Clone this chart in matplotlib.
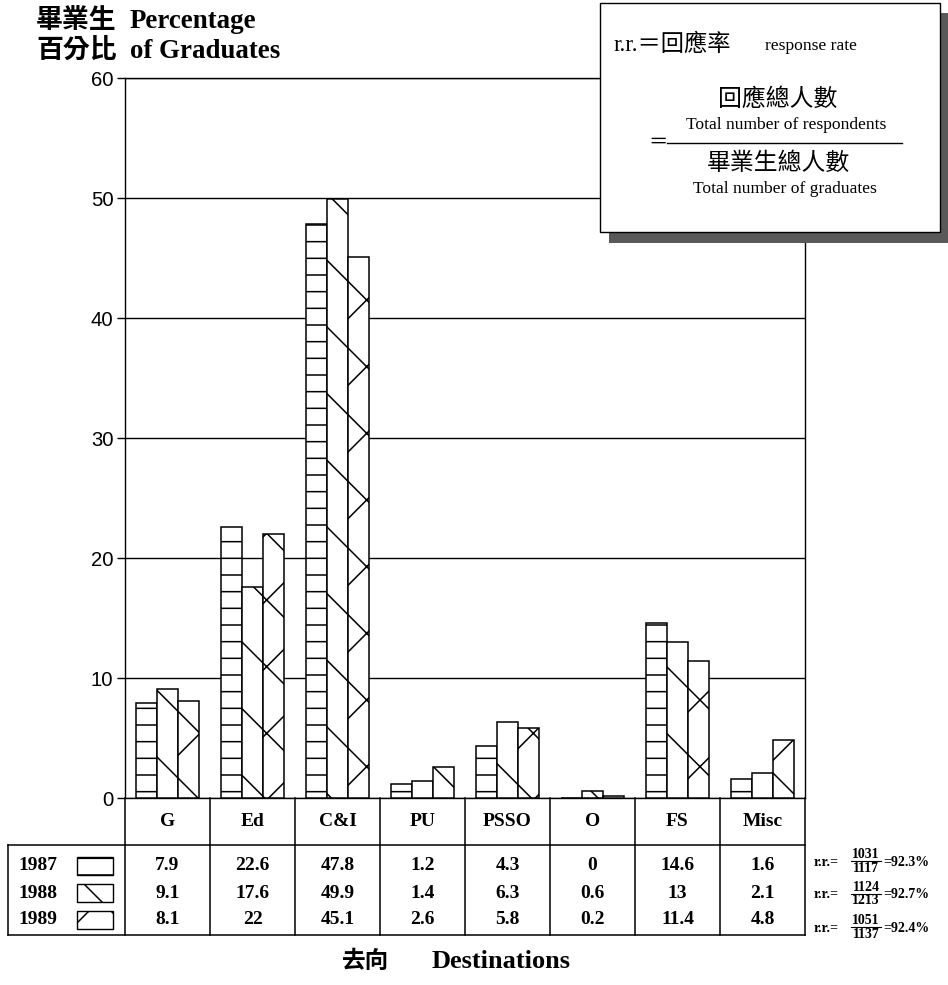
import numpy as np
import matplotlib
matplotlib.use('Agg')
import matplotlib.pyplot as plt
from matplotlib.patches import Rectangle
import matplotlib.transforms as mtransforms

# Datos
categories = ['G', 'Ed', 'C&I', 'PU', 'PSSO', 'O', 'FS', 'Misc']
years = ['1987', '1988', '1989']
pct_1987 = [7.9, 22.6, 47.8, 1.2, 4.3, 0, 14.6, 1.6]
pct_1988 = [9.1, 17.6, 49.9, 1.4, 6.3, 0.6, 13, 2.1]
pct_1989 = [8.1, 22, 45.1, 2.6, 5.8, 0.2, 11.4, 4.8]
respondents = [1031, 1124, 1051]
graduates = [1117, 1213, 1137]
y_ticks = [0, 10, 20, 30, 40, 50, 60]

series = [pct_1987, pct_1988, pct_1989]
hatches = ['--', '\\', 'x']

# Figura a dpi alto para que las tramas queden espaciadas como el original
W, H, DPI = 948, 985, 200
plt.rcParams['hatch.linewidth'] = 0.55
SERIF = ['Liberation Serif', 'Noto Sans CJK TC']

fig = plt.figure(figsize=(W / DPI, H / DPI), dpi=DPI)


def fx(x):
    return x / W


def fy(y):
    return 1 - y / H


ax = fig.add_axes([fx(125), fy(798), fx(805) - fx(125), fy(78) - fy(798)])
x = np.arange(len(categories))
bw = 0.25
for i, vals in enumerate(series):
    ax.bar(x + (i - 1) * bw, vals, bw, color='white', edgecolor='black',
           hatch=hatches[i], linewidth=0.55, zorder=3)
ax.set_xlim(-0.5, len(categories) - 0.5)
ax.set_ylim(0, 60)
ax.set_yticks(y_ticks)
ax.set_xticks([])
ax.yaxis.grid(True, color='black', linewidth=0.5)
ax.set_axisbelow(True)
ax.tick_params(axis='y', length=2.9, width=0.5, pad=1.3, labelsize=7.3,
               labelfontfamily='Liberation Sans')
for s in ax.spines.values():
    s.set_linewidth(0.5)

# Capa superior en pixeles para tabla, textos y recuadro
ov = fig.add_axes([0, 0, 1, 1])
ov.set_xlim(0, W)
ov.set_ylim(H, 0)
ov.axis('off')
ov.patch.set_alpha(0)
trans = mtransforms.blended_transform_factory(ax.transData, ov.transData)

lw = 0.55
# lineas de la tabla
for b in np.arange(len(categories) + 1) - 0.5:
    ov.plot([b, b], [798, 935], color='black', lw=lw, transform=trans,
            clip_on=False)
ov.plot([8, 805], [845, 845], color='black', lw=lw)
ov.plot([8, 805], [935, 935], color='black', lw=lw)
ov.plot([8, 8], [845, 935], color='black', lw=lw)

for k, cat in enumerate(categories):
    ov.text(k, 822, cat, transform=trans, ha='center', va='center',
            family=SERIF, weight='bold', fontsize=7)

row_y = [866, 893, 920]
rr_y = [861, 894, 927]
for i, vals in enumerate(series):
    for k, v in enumerate(vals):
        ov.text(k, row_y[i], '%g' % v, transform=trans, ha='center',
                va='center', family=SERIF, weight='bold', fontsize=7)
    ov.text(18, row_y[i], years[i], ha='left', va='center', family=SERIF,
            weight='bold', fontsize=7)
    ov.add_patch(Rectangle((77, row_y[i] - 9), 36, 18, facecolor='white',
                           edgecolor='black', hatch=hatches[i], lw=0.5))
    # fraccion r.r. = respondientes / graduados
    rr = 100.0 * respondents[i] / graduates[i]
    yy = rr_y[i]
    ov.text(814, yy + 1, 'r.r.=', ha='left', va='center', family=SERIF,
            weight='bold', fontsize=5)
    ov.text(866, yy, str(respondents[i]), ha='center', va='bottom',
            family=SERIF, weight='bold', fontsize=5)
    ov.text(866, yy + 0.5, str(graduates[i]), ha='center', va='top',
            family=SERIF, weight='bold', fontsize=5)
    ov.plot([851, 881], [yy, yy], color='black', lw=0.4)
    ov.text(883, yy + 1, '=%.1f%%' % rr, ha='left', va='center',
            family=SERIF, weight='bold', fontsize=5)

# Titulos
ov.text(36, 21, '畢業生', ha='left', va='center', family=SERIF,
        weight='bold', fontsize=9.7)
ov.text(130, 21, 'Percentage', ha='left', va='center', family=SERIF,
        weight='bold', fontsize=9.7)
ov.text(36, 51, '百分比', ha='left', va='center', family=SERIF,
        weight='bold', fontsize=9.7)
ov.text(130, 51, 'of Graduates', ha='left', va='center', family=SERIF,
        weight='bold', fontsize=9.7)
ov.text(366, 962, '去向', ha='center', va='center', family=SERIF,
        weight='bold', fontsize=8.5)
ov.text(432, 962, 'Destinations', ha='left', va='center', family=SERIF,
        weight='bold', fontsize=9.5)

# Recuadro con la definicion de r.r.
ov.add_patch(Rectangle((609, 13), 339, 230, facecolor='0.35',
                       edgecolor='none', zorder=4))
ov.add_patch(Rectangle((600, 3), 340, 229, facecolor='white',
                       edgecolor='black', lw=0.5, zorder=5))
ov.text(613, 45, 'r.r.＝回應率', ha='left', va='center', family=SERIF,
        fontsize=8.4, zorder=6)
ov.text(765, 46, 'response rate', ha='left', va='center', family=SERIF,
        fontsize=6.3, zorder=6)
ov.text(778, 100, '回應總人數', ha='center', va='center', family=SERIF,
        fontsize=8.6, zorder=6)
ov.text(786, 125, 'Total number of respondents', ha='center', va='center',
        family=SERIF, fontsize=6.3, zorder=6)
ov.text(658, 143, '＝', ha='center', va='center', family=SERIF,
        fontsize=7, zorder=6)
ov.plot([667, 902], [143, 143], color='black', lw=0.5, zorder=6)
ov.text(778, 164, '畢業生總人數', ha='center', va='center', family=SERIF,
        fontsize=8.6, zorder=6)
ov.text(785, 189, 'Total number of graduates', ha='center', va='center',
        family=SERIF, fontsize=6.3, zorder=6)

fig.savefig('out.png', dpi=DPI)
